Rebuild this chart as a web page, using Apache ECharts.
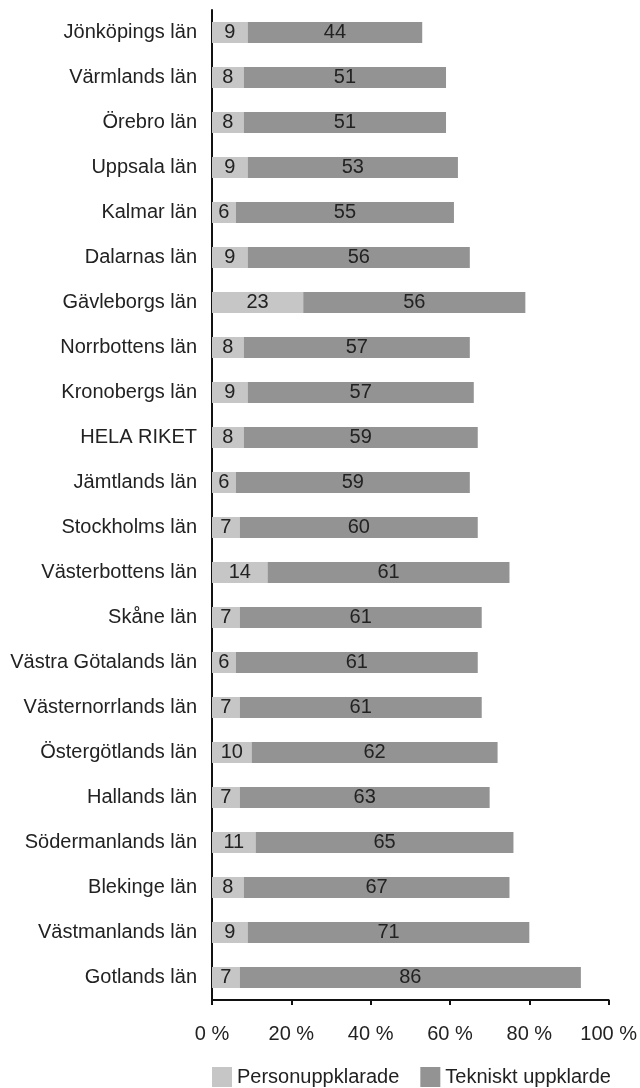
<!DOCTYPE html>
<html>
<head>
<meta charset="utf-8">
<script src="https://cdn.jsdelivr.net/npm/echarts@6/dist/echarts.min.js"></script>
<style>
  html, body { margin: 0; padding: 0; background: #fff; }
  #chart { width: 640px; height: 1088px; }
</style>
</head>
<body>
<div id="chart"></div>
<script>
var categories = ['Jönköpings län', 'Värmlands län', 'Örebro län', 'Uppsala län', 'Kalmar län',
  'Dalarnas län', 'Gävleborgs län', 'Norrbottens län', 'Kronobergs län', 'HELA RIKET',
  'Jämtlands län', 'Stockholms län', 'Västerbottens län', 'Skåne län', 'Västra Götalands län',
  'Västernorrlands län', 'Östergötlands län', 'Hallands län', 'Södermanlands län',
  'Blekinge län', 'Västmanlands län', 'Gotlands län'];
var personuppklarade = [9, 8, 8, 9, 6, 9, 23, 8, 9, 8, 6, 7, 14, 7, 6, 7, 10, 7, 11, 8, 9, 7];
var tekniskt = [44, 51, 51, 53, 55, 56, 56, 57, 57, 59, 59, 60, 61, 61, 61, 61, 62, 63, 65, 67, 71, 86];
var xTicks = [0, 20, 40, 60, 80, 100];

var font = 'Liberation Sans';
var txt = '#222';
var chart = echarts.init(document.getElementById('chart'));

chart.setOption({
  animation: false,
  textStyle: { fontFamily: font },
  grid: { left: 212, right: 28, top: 10, bottom: 88, containLabel: false },
  legend: {
    left: 212,
    bottom: 1,
    padding: 0,
    itemWidth: 20,
    itemHeight: 20,
    itemGap: 21,
    icon: 'rect',
    textStyle: { fontFamily: font, fontSize: 20, color: txt },
    data: ['Personuppklarade', 'Tekniskt uppklarde']
  },
  xAxis: {
    type: 'value',
    min: 0,
    max: 100,
    interval: 20,
    splitLine: { show: false },
    axisLine: { show: true, lineStyle: { color: '#111', width: 2 } },
    axisTick: { show: true, length: 5, lineStyle: { color: '#111', width: 2 } },
    axisLabel: {
      margin: 24,
      fontSize: 20,
      color: txt,
      fontFamily: font,
      formatter: function (v) { return xTicks.indexOf(v) >= 0 ? v + ' %' : ''; }
    }
  },
  yAxis: {
    type: 'category',
    inverse: true,
    data: categories,
    axisLine: { show: true, lineStyle: { color: '#111', width: 2 } },
    axisTick: { show: false },
    axisLabel: { margin: 15, fontSize: 20, color: txt, fontFamily: font }
  },
  series: [
    {
      name: 'Personuppklarade',
      type: 'bar',
      stack: 'total',
      barWidth: 21,
      data: personuppklarade,
      itemStyle: { color: '#c6c6c6' },
      label: { show: true, position: 'inside', fontSize: 20, color: txt, fontFamily: font }
    },
    {
      name: 'Tekniskt uppklarde',
      type: 'bar',
      stack: 'total',
      barWidth: 21,
      data: tekniskt,
      itemStyle: { color: '#939393' },
      label: { show: true, position: 'inside', fontSize: 20, color: txt, fontFamily: font }
    }
  ]
});
</script>
</body>
</html>
